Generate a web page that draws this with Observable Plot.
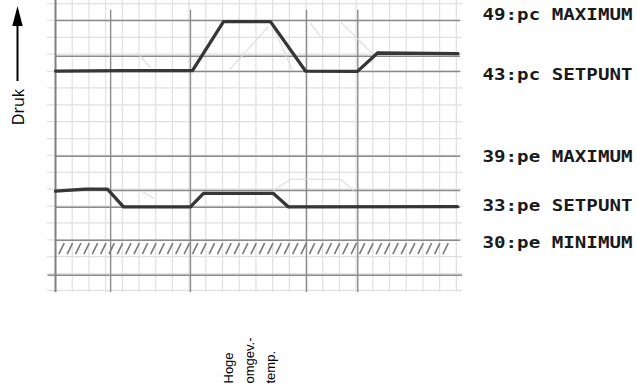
<!DOCTYPE html>
<html><head><meta charset="utf-8">
<script src="https://cdn.jsdelivr.net/npm/d3@7"></script>
<script src="https://cdn.jsdelivr.net/npm/@observablehq/plot@0.6"></script>
<style>body{margin:0;background:#fff} #chart{width:637px;height:389px}</style>
</head><body><div id="chart"></div>
<script>
// grid units: x = time (grid squares), y = pressure (grid squares)
const gridX = d3.range(0, 25);
const gridY = d3.range(0, 18);
const levelY = [15.99, 13.88, 12.98, 7.95, 5.93, 4.93, 2.98];
const baseY = [0.9];
const markerX = [3.3, 8.08, 15.03, 18.1];
const labelText = ["49:pc MAXIMUM", "43:pc SETPUNT", "39:pe MAXIMUM", "33:pe SETPUNT", "30:pe MINIMUM"];
const labelY = [16.31, 12.74, 7.89, 5.02, 2.82];
const topX = [0, 4, 8.2, 10.06, 12.87, 14.97, 18.08, 19.28, 24.1];
const topV = [13.0, 13.02, 13.02, 15.93, 15.93, 13.0, 12.98, 14.07, 14.03];
const botX = [0, 1.8, 3.11, 4.07, 8.08, 8.86, 13.05, 13.95, 24.07];
const botV = [5.88, 6.0, 6.0, 4.95, 4.95, 5.75, 5.75, 4.95, 4.97];
const ghostId = [1, 1, 2, 2, 3, 3, 4, 4, 5, 5, 6, 6, 6, 6, 7, 7];
const ghostX = [4.91, 5.69, 10.48, 12.69, 12.87, 14.19, 17.1, 19.0, 15.27, 16.05, 13.05, 14.07, 17.07, 17.84, 5.27, 5.87];
const ghostV = [14.04, 13.21, 13.15, 15.58, 15.99, 13.04, 15.9, 14.0, 15.82, 14.81, 5.93, 6.59, 6.59, 5.93, 5.82, 5.46];
const hatchX = d3.range(0.2, 23.7, 0.5);
const eventText = "Hoge\nomgev.-\ntemp.";
const eventX = 11.47;

const topData = topX.map((x, i) => ({x, y: topV[i]}));
const botData = botX.map((x, i) => ({x, y: botV[i]}));
const ghostData = ghostX.map((x, i) => ({x, y: ghostV[i], id: ghostId[i]}));

const plot = Plot.plot({
  width: 637, height: 389,
  marginLeft: 47, marginRight: 175, marginTop: 0, marginBottom: 97,
  x: {domain: [-0.48, 24.37], axis: null},
  y: {domain: [-0.12, 17.18], axis: null},
  style: {background: "#fff"},
  marks: [
    Plot.ruleX(gridX, {x: d => d, stroke: "#e0e0e0", strokeWidth: 1.2}),
    Plot.ruleY(gridY, {y: d => d, stroke: "#e0e0e0", strokeWidth: 1.2}),
    Plot.ruleX(markerX, {x: d => d, y1: () => 16.6, y2: () => -0.12, stroke: "#8c8c8c", strokeWidth: 1.4}),
    Plot.ruleY(levelY, {y: d => d, x1: () => 0, x2: () => 24.25, stroke: "#8a8a8a", strokeWidth: 1.5}),
    Plot.ruleY(baseY, {y: d => d, x1: () => -0.45, x2: () => 24.37, stroke: "#8a8a8a", strokeWidth: 1.5}),
    Plot.ruleX([0], {x: d => d, stroke: "#808080", strokeWidth: 2}),
    Plot.link(hatchX, {x1: d => d, x2: d => d + 0.32, y1: () => 2.15, y2: () => 2.8, stroke: "#7a7a7a", strokeWidth: 1.6}),
    Plot.line(ghostData, {x: "x", y: "y", z: "id", stroke: "#dcdcdc", strokeWidth: 1.1}),
    Plot.line(topData, {x: "x", y: "y", stroke: "#363636", strokeWidth: 3.3, strokeLinejoin: "round"}),
    Plot.line(botData, {x: "x", y: "y", stroke: "#363636", strokeWidth: 3.3, strokeLinejoin: "round"}),
    Plot.text(labelText, {frameAnchor: "right", y: (d, i) => labelY[i], dx: 20, textAnchor: "start", lineAnchor: "middle",
      fontFamily: "DejaVu Sans Mono", fontWeight: "bold", fontSize: 15, fill: "#1a1a1a"}),
    Plot.text(["Druk"], {frameAnchor: "left", dx: -28.5, dy: -39.5, rotate: -90, textAnchor: "middle", lineAnchor: "middle",
      fontFamily: "Open Sans", fontSize: 16, fill: "#000"}),
    Plot.text([eventText], {x: () => eventX, frameAnchor: "bottom", dy: 91, rotate: -90, textAnchor: "start", lineAnchor: "middle",
      lineHeight: 1.6, fontFamily: "Liberation Sans", fontSize: 13, fill: "#000"})
  ]
});

const svg = d3.select(plot);
svg.selectAll("text").filter(function() { return labelText.includes(this.textContent); })
  .attr("textLength", 150).attr("lengthAdjust", "spacingAndGlyphs");
svg.append("line").attr("x1", 17.5).attr("x2", 17.5).attr("y1", 81).attr("y2", 24).attr("stroke", "#000").attr("stroke-width", 2);
svg.append("path").attr("d", "M17.5,6L12.3,26L22.7,26Z").attr("fill", "#000");
document.getElementById("chart").append(plot);
</script>
</body></html>
